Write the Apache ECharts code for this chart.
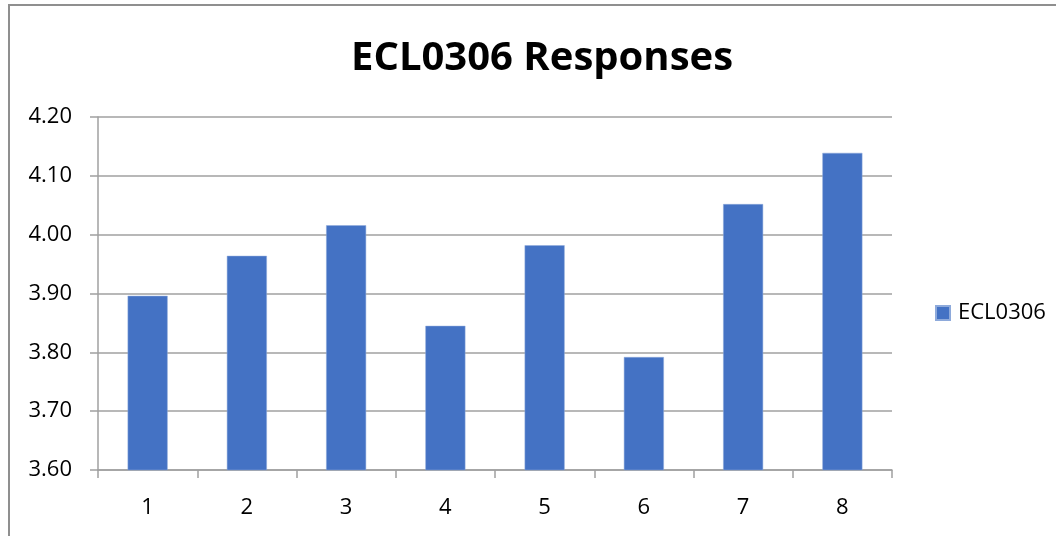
<!DOCTYPE html>
<html>
<head>
<meta charset="utf-8">
<script src="https://cdn.jsdelivr.net/npm/echarts@6/dist/echarts.min.js"></script>
<style>
html,body{margin:0;padding:0;background:#fff;overflow:hidden;}
#frame{position:absolute;left:8px;top:4px;width:1100px;height:600px;border-left:2px solid #8f8f8f;border-top:2px solid #8f8f8f;box-sizing:border-box;}
#chart{position:absolute;left:0;top:0;width:1056px;height:536px;}
</style>
</head>
<body>
<div id="frame"></div>
<div id="chart"></div>
<script>
const titleText = 'ECL0306 Responses';
const seriesName = 'ECL0306';
const categories = ['1','2','3','4','5','6','7','8'];
const values = [3.896, 3.964, 4.016, 3.845, 3.982, 3.792, 4.052, 4.139];
const yMin = 3.6, yMax = 4.2, yStep = 0.1;

const chart = echarts.init(document.getElementById('chart'));
const FONT = '"Open Sans", "Noto Sans", sans-serif';
chart.setOption({
  animation: false,
  backgroundColor: 'transparent',
  title: {
    text: titleText, left: 346, top: 34,
    textStyle: {fontFamily: FONT, fontWeight: 'bold', fontSize: 40, color: '#000'}
  },
  legend: {
    left: 930, top: 297, orient: 'vertical',
    itemWidth: 14, itemHeight: 14, itemGap: 8, icon: 'rect',
    textStyle: {fontFamily: FONT, fontSize: 22, color: '#000', padding: [0, 0, 0, 3]},
    data: [seriesName]
  },
  grid: {left: 98, right: 164, top: 117, bottom: 66},
  xAxis: {
    type: 'category', data: categories,
    axisLine: {lineStyle: {color: '#a0a0a0', width: 1.5}},
    axisTick: {show: true, length: 8, lineStyle: {color: '#a0a0a0', width: 1.5}},
    axisLabel: {fontFamily: FONT, fontSize: 22, color: '#000', margin: 27}
  },
  yAxis: {
    type: 'value', min: yMin, max: yMax, interval: yStep,
    axisLine: {show: true, lineStyle: {color: '#a0a0a0', width: 1.5}},
    axisTick: {show: true, length: 8, lineStyle: {color: '#a0a0a0', width: 1.5}},
    splitLine: {lineStyle: {color: '#a0a0a0', width: 1.5}},
    axisLabel: {fontFamily: FONT, fontSize: 22, color: '#000', margin: 26,
      formatter: v => v.toFixed(2)}
  },
  series: [{
    name: seriesName, type: 'bar', data: values, barWidth: 40,
    itemStyle: {color: '#4472C4', borderColor: '#8eaadb', borderWidth: 0.5}
  }]
});
</script>
</body>
</html>
